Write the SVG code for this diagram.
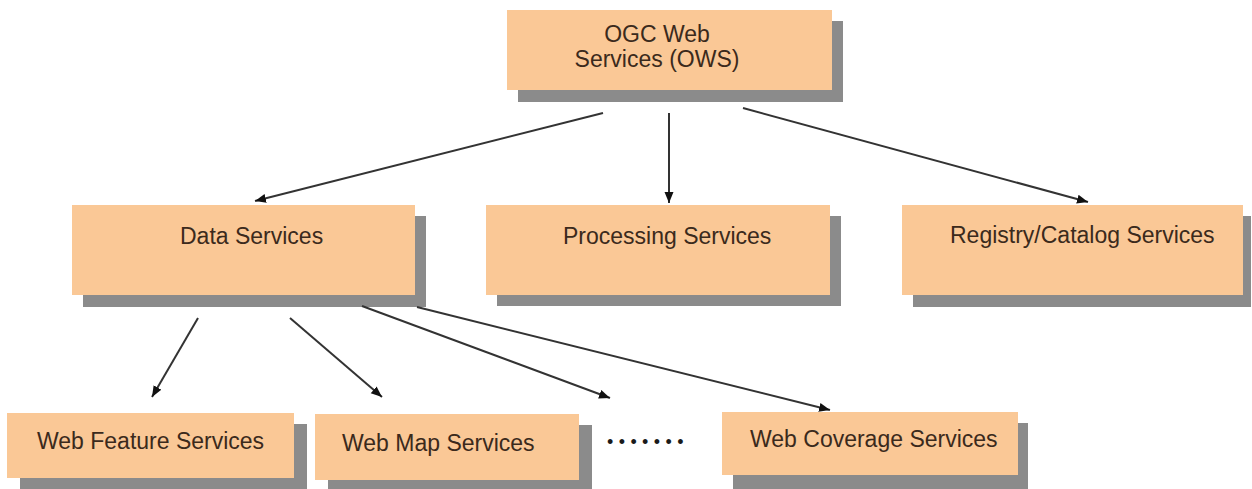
<svg xmlns="http://www.w3.org/2000/svg" width="1252" height="489" viewBox="0 0 1252 489">
<style>
  .box { fill: #FAC896; }
  .shadow { fill: #8B8B8B; }
  .lbl { font-family: "Liberation Sans", Arial, sans-serif; font-size: 23px; fill: #3B2A1C; }
  .conn { stroke: #333333; stroke-width: 2; fill: none; marker-end: url(#arrow); }
</style>
<defs>
  <marker id="arrow" markerUnits="userSpaceOnUse" markerWidth="12" markerHeight="10" refX="11" refY="4.5" orient="auto">
    <path d="M0,0 L11,4.5 L0,9 z" fill="#111111"/>
  </marker>
</defs>
<rect width="1252" height="489" fill="#FFFFFF"/>

<g id="ows">
  <rect class="shadow" x="518" y="21" width="325" height="81"/>
  <rect class="box" x="507" y="10" width="325" height="80"/>
  <text class="lbl" x="657" y="42" text-anchor="middle">OGC Web</text>
  <text class="lbl" x="657" y="67" text-anchor="middle">Services (OWS)</text>
</g>

<g id="data">
  <rect class="shadow" x="83" y="216" width="343" height="91"/>
  <rect class="box" x="72" y="205" width="343" height="90"/>
  <text class="lbl" x="180" y="244">Data Services</text>
</g>

<g id="processing">
  <rect class="shadow" x="497" y="216" width="344" height="90"/>
  <rect class="box" x="486" y="205" width="344" height="90"/>
  <text class="lbl" x="563" y="244">Processing Services</text>
</g>

<g id="registry">
  <rect class="shadow" x="913" y="216" width="338" height="91"/>
  <rect class="box" x="902" y="205" width="341" height="90"/>
  <text class="lbl" x="950" y="243">Registry/Catalog Services</text>
</g>

<g id="wfs">
  <rect class="shadow" x="20" y="424" width="287" height="70"/>
  <rect class="box" x="7" y="413" width="287" height="65"/>
  <text class="lbl" x="37" y="449">Web Feature Services</text>
</g>

<g id="wms">
  <rect class="shadow" x="328" y="425" width="264" height="70"/>
  <rect class="box" x="315" y="414" width="264" height="66"/>
  <text class="lbl" x="342" y="451">Web Map Services</text>
</g>

<g id="dots">
  <text x="607" y="448" font-family="Liberation Sans, Arial, sans-serif" font-size="18" letter-spacing="5.4" fill="#1A1A1A">•••••••</text>
</g>

<g id="wcs">
  <rect class="shadow" x="733" y="423" width="295" height="66"/>
  <rect class="box" x="722" y="412" width="296" height="63"/>
  <text class="lbl" x="750" y="447">Web Coverage Services</text>
</g>

<g id="connectors">
  <line class="conn" x1="603" y1="113" x2="255" y2="201"/>
  <line class="conn" x1="669" y1="113" x2="669" y2="203"/>
  <line class="conn" x1="743" y1="108" x2="1088" y2="202"/>
  <line class="conn" x1="198" y1="318" x2="152" y2="397"/>
  <line class="conn" x1="290" y1="318" x2="382" y2="397"/>
  <line class="conn" x1="362" y1="306" x2="610" y2="398"/>
  <line class="conn" x1="417" y1="307" x2="830" y2="410"/>
</g>
</svg>
